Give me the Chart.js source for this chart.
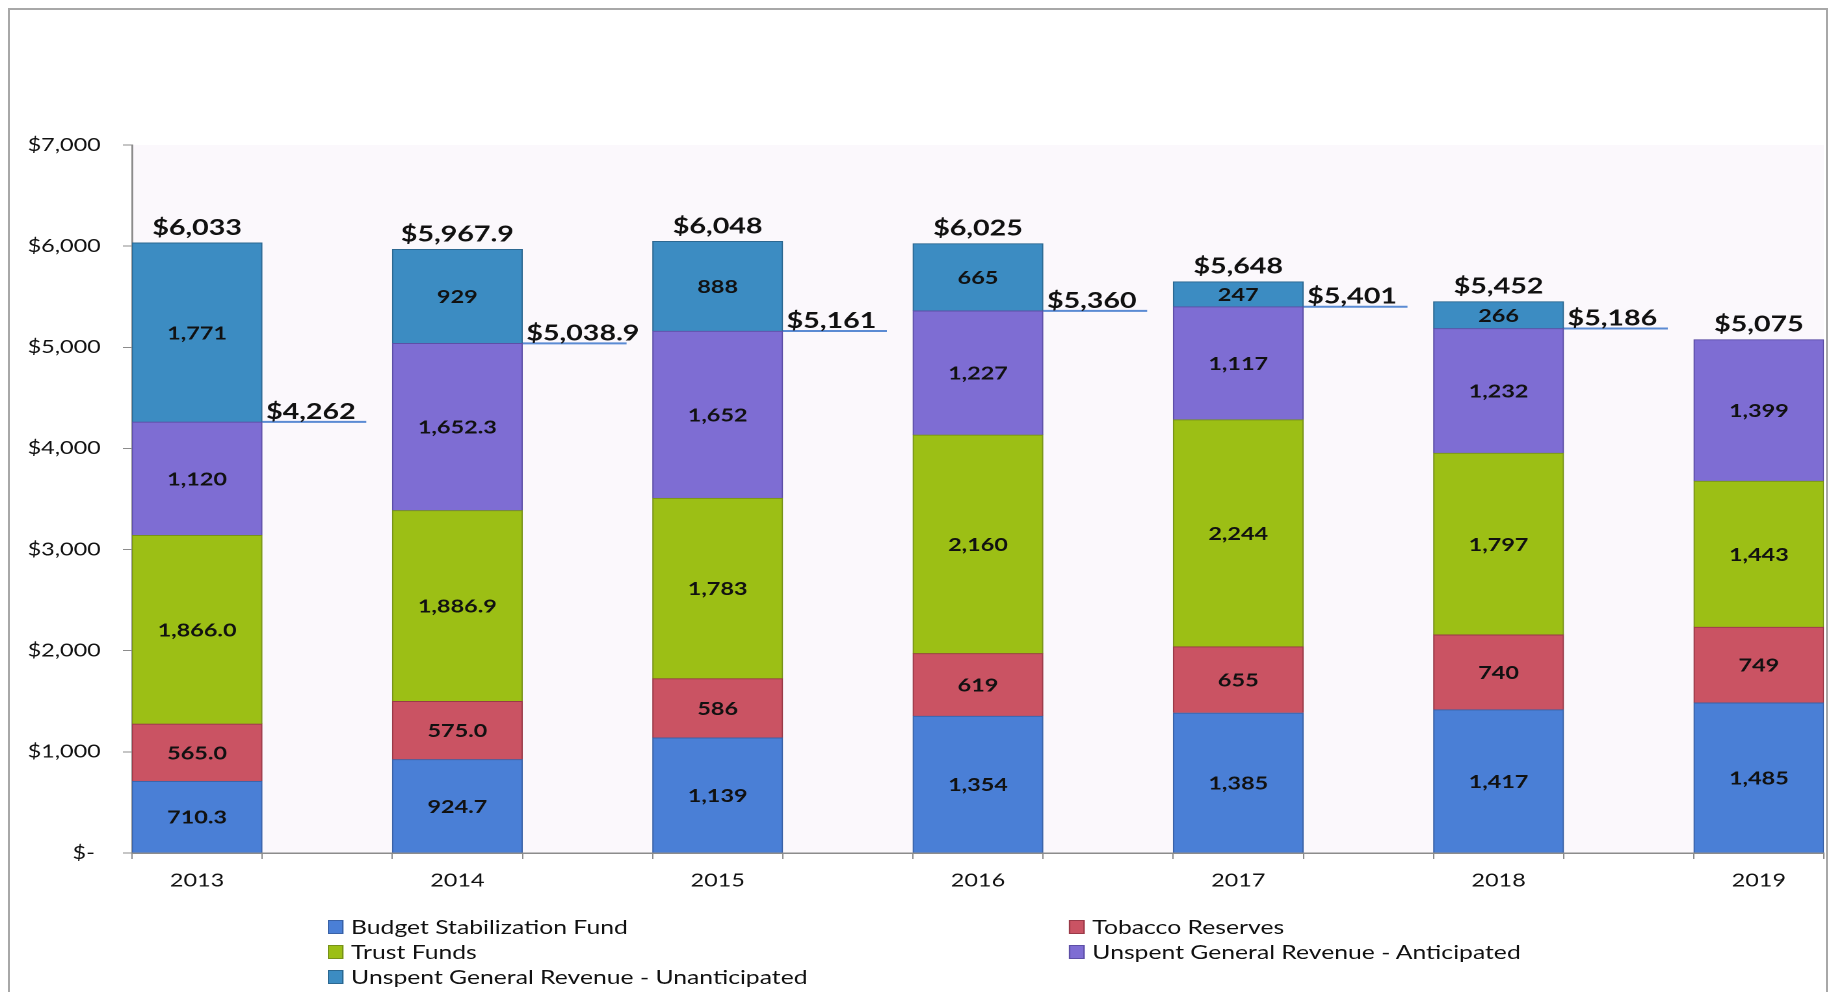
<!DOCTYPE html>
<html>
<head>
<meta charset="utf-8">
<script src="https://cdn.jsdelivr.net/npm/chart.js@4.4.1/dist/chart.umd.min.js"></script>
<style>
  html, body { margin: 0; padding: 0; background: #fff; overflow: hidden; }
  #frame { position: absolute; left: 8px; top: 8px; width: 1816px; height: 1200px; border: 2px solid #a8a8a8; }
  /* the original picture is stretched sideways, so draw narrow and stretch */
  #wrap { position: absolute; left: 0; top: 0; width: 1408px; height: 992px; transform: scaleX(1.3004); transform-origin: 0 0; }
  #legend { position: absolute; left: 252px; top: 914px; display: grid; grid-template-columns: 570px auto; font: 19px Lato, sans-serif; color: #111; }
  .item { display: flex; align-items: center; height: 25px; white-space: nowrap; }
  .box { width: 12px; height: 14px; margin-right: 6px; border: 1px solid; box-sizing: border-box; }
</style>
</head>
<body>
<div id="frame"></div>
<div id="wrap">
  <canvas id="chart" width="1408" height="992"></canvas>
  <div id="legend"></div>
</div>
<script>
const years = ['2013', '2014', '2015', '2016', '2017', '2018', '2019'];
const budgetStabilization = [710.3, 924.7, 1139, 1354, 1385, 1417, 1485];
const tobaccoReserves = [565.0, 575.0, 586, 619, 655, 740, 749];
const trustFunds = [1866.0, 1886.9, 1783, 2160, 2244, 1797, 1443];
const unspentAnticipated = [1120, 1652.3, 1652, 1227, 1117, 1232, 1399];
const unspentUnanticipated = [1771, 929, 888, 665, 247, 266, null];
const totals = [6033, 5967.9, 6048, 6025, 5648, 5452, 5075];
const subtotals = [4262, 5038.9, 5161, 5360, 5401, 5186, null];
const yTicks = [0, 1000, 2000, 3000, 4000, 5000, 6000, 7000];

const series = [
    { label: 'Budget Stabilization Fund', values: budgetStabilization, color: '#4a7fd6', border: '#3a62a6' },
    { label: 'Tobacco Reserves', values: tobaccoReserves, color: '#ca5363', border: '#993a48' },
    { label: 'Trust Funds', values: trustFunds, color: '#9cbf15', border: '#77921a' },
    { label: 'Unspent General Revenue - Anticipated', values: unspentAnticipated, color: '#7e6dd3', border: '#5d4fa6' },
    { label: 'Unspent General Revenue - Unanticipated', values: unspentUnanticipated, color: '#3c8cc2', border: '#2c6891' }
];

const axisColor = '#8c8c8c';
const textColor = '#111';

function money(v) {
    return '$' + v.toLocaleString('en-US', { maximumFractionDigits: 1 });
}

// line pieces from each bar's right edge toward the next bar
const subtotalLine = [];
subtotals.forEach((s, i) => {
    if (s == null) return;
    subtotalLine.push({ x: i + 0.25, y: s }, { x: i + 0.65, y: s }, { x: i + 0.7, y: null });
});

const datasets = series.map(s => ({
    type: 'bar',
    label: s.label,
    data: s.values.map((v, i) => ({ x: i, y: v })),
    backgroundColor: s.color,
    borderColor: s.border,
    borderWidth: 1,
    barThickness: 100,
    stack: 'funds'
}));
datasets.push({
    type: 'line',
    label: 'subtotal',
    data: subtotalLine,
    borderColor: '#5b8bd3',
    borderWidth: 2,
    pointRadius: 0,
    spanGaps: false,
    stack: 'sub'
});

const labelPlugin = {
    id: 'labels',
    beforeDraw(chart) {
        const { ctx, chartArea: a } = chart;
        ctx.save();
        ctx.fillStyle = '#fbf8fc';
        ctx.fillRect(a.left, a.top, a.right - a.left, a.bottom - a.top);
        ctx.restore();
    },
    afterDatasetsDraw(chart) {
        const ctx = chart.ctx;
        const xs = chart.scales.x, ys = chart.scales.y;
        ctx.save();
        ctx.fillStyle = textColor;
        ctx.textAlign = 'center';
        ctx.textBaseline = 'middle';
        ctx.font = 'bold 18px Lato';
        series.forEach((s, d) => {
            const meta = chart.getDatasetMeta(d);
            meta.data.forEach((el, i) => {
                const v = s.values[i];
                if (v == null) return;
                const fixed = i < 2 && d < 3;
                const txt = v.toLocaleString('en-US', { minimumFractionDigits: fixed ? 1 : 0, maximumFractionDigits: 1 });
                ctx.fillText(txt, el.x, (el.y + el.base) / 2 + 1);
            });
        });
        ctx.font = 'bold 22px Lato';
        ctx.textBaseline = 'alphabetic';
        totals.forEach((t, i) => {
            ctx.textAlign = 'center';
            ctx.fillText(money(t), xs.getPixelForValue(i), ys.getPixelForValue(t) - 8);
        });
        subtotals.forEach((s, i) => {
            if (s == null) return;
            ctx.textAlign = 'left';
            ctx.fillText(money(s), xs.getPixelForValue(i + 0.25) + 3, ys.getPixelForValue(s) - 3);
        });
        ctx.restore();
    }
};

function isCenterTick(c) {
    return !!(c && c.tick && Number.isInteger(c.tick.value));
}

const chart = new Chart(document.getElementById('chart'), {
    data: { datasets: datasets },
    options: {
        responsive: false,
        animation: false,
        devicePixelRatio: 2,
        layout: { padding: { top: 145, right: 5.4, left: 0, bottom: 0 } },
        plugins: {
            legend: { display: false },
            tooltip: { enabled: false }
        },
        scales: {
            x: {
                type: 'linear',
                stacked: true,
                offset: false,
                min: -0.25,
                max: 6.25,
                afterBuildTicks: scale => {
                    const t = [];
                    years.forEach((y, i) => t.push({ value: i - 0.25 }, { value: i }, { value: i + 0.25 }));
                    scale.ticks = t;
                },
                afterFit: scale => {
                    scale.height = 139;
                    scale.paddingLeft = 0;
                    scale.paddingRight = 0;
                },
                ticks: {
                    autoSkip: false,
                    maxRotation: 0,
                    padding: 11,
                    color: textColor,
                    font: { family: 'Lato', size: 18 },
                    callback: v => Number.isInteger(v) ? years[v] : ''
                },
                grid: {
                    offset: false,
                    drawOnChartArea: false,
                    tickLength: 6,
                    tickColor: c => isCenterTick(c) ? 'rgba(0,0,0,0)' : axisColor
                },
                border: { color: axisColor, width: 1.5 }
            },
            y: {
                stacked: true,
                min: 0,
                max: 7000,
                afterBuildTicks: scale => { scale.ticks = yTicks.map(v => ({ value: v })); },
                afterFit: scale => { scale.width = 101.5; },
                ticks: {
                    padding: 17,
                    color: textColor,
                    font: { family: 'Lato', size: 18 },
                    callback: v => v === 0 ? '$- ' : '$' + v.toLocaleString('en-US')
                },
                grid: { drawOnChartArea: false, tickLength: 7, tickColor: axisColor },
                border: { color: axisColor, width: 1.5 }
            }
        }
    },
    plugins: [labelPlugin]
});

// legend in two columns, row by row like the original
const legend = document.getElementById('legend');
series.forEach(s => {
    const item = document.createElement('div');
    item.className = 'item';
    const box = document.createElement('span');
    box.className = 'box';
    box.style.background = s.color;
    box.style.borderColor = s.border;
    item.appendChild(box);
    item.appendChild(document.createTextNode(s.label));
    legend.appendChild(item);
});
</script>
</body>
</html>
